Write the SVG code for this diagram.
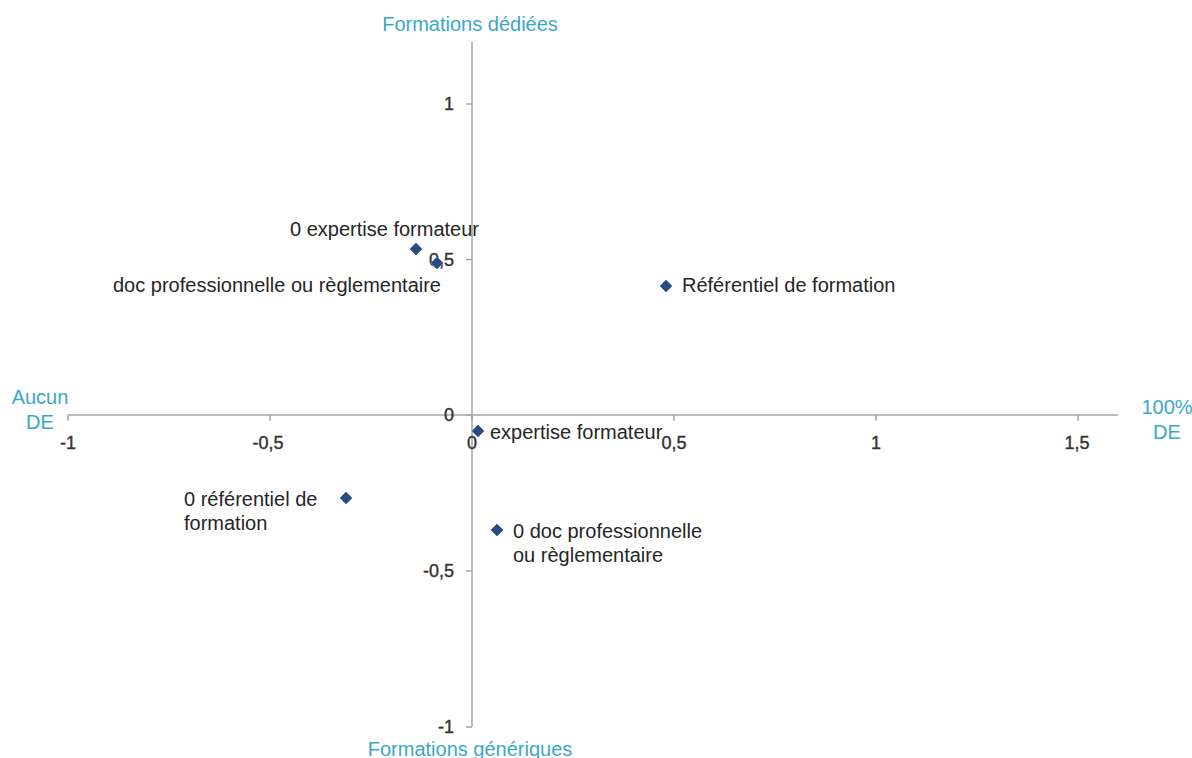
<svg xmlns="http://www.w3.org/2000/svg" width="1192" height="758" viewBox="0 0 1192 758">
<style>
.ax{stroke:#a6a6a6;stroke-width:1.5;fill:none}
.tk{font-family:"Liberation Sans",Arial,sans-serif;font-size:18px;fill:#333333;stroke:#333333;stroke-width:0.4}
.lb{font-family:"Liberation Sans",Arial,sans-serif;font-size:20px;fill:#262626}
.tt{font-family:"Liberation Sans",Arial,sans-serif;font-size:20px;fill:#3aa8c8}
.mk{fill:#2c4a7c;stroke:#4a74b4;stroke-width:1}
</style>
<defs>
<path id="d" d="M0,-6 L6,0 L0,6 L-6,0 Z"/>
</defs>
<rect width="1192" height="758" fill="#ffffff"/>
<g id="axes">
<path class="ax" d="M68,415 H1118 M472,42 V727"/>
<path class="ax" d="M68,415 v6 M270,415 v6 M472,415 v6 M674,415 v6 M876,415 v6 M1078,415 v6"/>
<path class="ax" d="M466,104 h6 M466,259.5 h6 M466,415 h6 M466,571 h6 M466,727 h6"/>
<g class="tk" text-anchor="middle">
<text x="68" y="449">-1</text>
<text x="268" y="449">-0,5</text>
<text x="472" y="449">0</text>
<text x="674" y="449">0,5</text>
<text x="876" y="449">1</text>
<text x="1077" y="449">1,5</text>
</g>
<g class="tk" text-anchor="end">
<text x="454" y="110">1</text>
<text x="454" y="266">0,5</text>
<text x="454" y="421">0</text>
<text x="454" y="577">-0,5</text>
<text x="454" y="733">-1</text>
</g>
</g>
<g id="titles" class="tt" text-anchor="middle">
<text x="470" y="31">Formations dédiées</text>
<text x="470" y="756">Formations génériques</text>
<text x="40" y="404">Aucun</text>
<text x="40" y="429">DE</text>
<text x="1167" y="414">100%</text>
<text x="1167" y="439">DE</text>
</g>
<g id="p1"><use href="#d" class="mk" x="416" y="249"/><text class="lb" x="290" y="236">0 expertise formateur</text></g>
<g id="p2"><use href="#d" class="mk" x="437" y="263"/><text class="lb" x="113" y="292">doc professionnelle ou règlementaire</text></g>
<g id="p3"><use href="#d" class="mk" x="666" y="286"/><text class="lb" x="682" y="292">Référentiel de formation</text></g>
<g id="p4"><use href="#d" class="mk" x="478" y="431"/><text class="lb" x="490" y="439">expertise formateur</text></g>
<g id="p5"><use href="#d" class="mk" x="346" y="498"/><text class="lb" x="184" y="506">0 référentiel de</text><text class="lb" x="184" y="530">formation</text></g>
<g id="p6"><use href="#d" class="mk" x="497" y="530"/><text class="lb" x="513" y="538">0 doc professionnelle</text><text class="lb" x="513" y="562">ou règlementaire</text></g>
</svg>
